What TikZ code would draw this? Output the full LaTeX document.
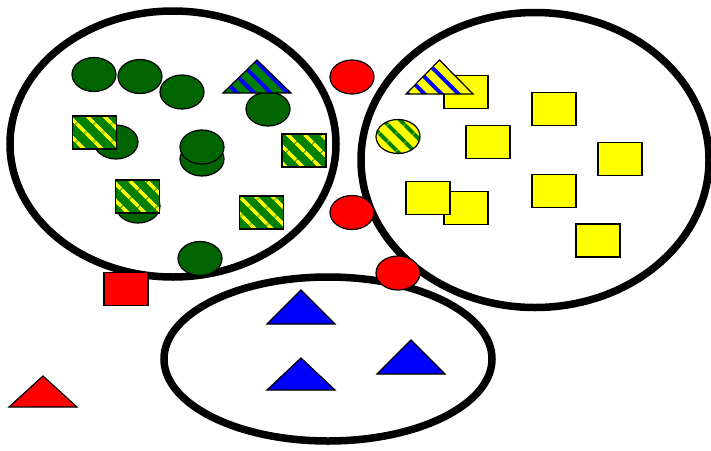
\documentclass[tikz,border=0pt]{standalone}
\usetikzlibrary{shapes.geometric, patterns.meta}
\definecolor{leaf}{HTML}{006400}
\definecolor{stripe}{HTML}{008000}
\definecolor{sun}{HTML}{FFFF00}
\definecolor{fire}{HTML}{FF0000}
\definecolor{sea}{HTML}{0000FF}
\tikzset{
  rim/.style={ellipse, draw=black, line width=7.5pt, inner sep=0pt},
  dot/.style={ellipse, draw=black, line width=1.2pt, inner sep=0pt,
    minimum width=44pt, minimum height=34pt},
  gdot/.style={dot, fill=leaf},
  rdot/.style={dot, fill=fire},
  ydot/.style={dot, preaction={fill=sun},
    pattern={Lines[angle=-45, distance=13pt, line width=4.5pt]}, pattern color=stripe},
  sq/.style={rectangle, draw=black, line width=1.6pt, inner sep=0pt,
    minimum width=44pt, minimum height=33pt},
  ysq/.style={sq, fill=sun},
  rsq/.style={sq, fill=fire},
  gsq/.style={sq, preaction={fill=stripe},
    pattern={Lines[angle=-45, distance=13pt, line width=4pt]}, pattern color=sun},
  tri/.style={draw=black, line width=1.2pt, line join=miter},
  btri/.style={tri, fill=sea},
  rtri/.style={tri, fill=fire},
  gtri/.style={tri, preaction={fill=stripe},
    pattern={Lines[angle=-45, distance=12pt, line width=4pt]}, pattern color=sea},
  ytri/.style={tri, preaction={fill=sun},
    pattern={Lines[angle=-45, distance=12pt, line width=4pt]}, pattern color=sea},
}

\begin{document}
\begin{tikzpicture}[x=1pt, y=-1pt]
  \useasboundingbox[fill=white] (0,0) rectangle (711,450);
  % the three sets
  \node[rim, minimum width=326pt, minimum height=266pt] (lset) at (173,144) {};
  \node[rim, minimum width=348pt, minimum height=295pt] (rset) at (535,160) {};
  \node[rim, minimum width=328pt, minimum height=164pt] (bset) at (328,359) {};
  % left set
  \node[gdot] (g1) at (94,74.5) {};
  \node[gdot] (g2) at (140,76.5) {};
  \node[gdot] (g3) at (182,92) {};
  \node[gdot] (g4) at (268,109) {};
  \draw[gtri] (223,93) -- (257,60) -- (291,93) -- cycle;
  \node[gdot] (g5) at (116,142) {};
  \node[gsq] (s1) at (94.5,132.5) {};
  \node[gdot] (g6) at (202,159) {};
  \node[gdot] (g7) at (202,147) {};
  \node[gsq] (s2) at (304,150.5) {};
  \node[gdot] (g8) at (138,206) {};
  \node[gsq] (s3) at (137.5,196.5) {};
  \node[gsq] (s4) at (261.5,212.5) {};
  \node[gdot] (g9) at (200,258.5) {};
  % right set
  \node[ysq] (y1) at (466,92) {};
  \draw[ytri] (406,94) -- (439.5,60) -- (473,94) -- cycle;
  \node[ydot] (seed) at (398,136.5) {};
  \node[ysq] (y2) at (488,142) {};
  \node[ysq] (y3) at (554,109) {};
  \node[ysq] (y4) at (620,159) {};
  \node[ysq] (y5) at (554,191) {};
  \node[ysq] (y6) at (466,208) {};
  \node[ysq] (y7) at (428,198) {};
  \node[ysq] (y8) at (598,240.5) {};
  % bottom set
  \draw[btri] (267,324) -- (301,290) -- (335,324) -- cycle;
  \draw[btri] (267,390) -- (301,358) -- (335,390) -- cycle;
  \draw[btri] (377,374) -- (411,340) -- (445,374) -- cycle;
  % outside
  \node[rdot] (r1) at (352,77) {};
  \node[rdot] (r2) at (352,212.5) {};
  \node[rdot] (r3) at (398,273) {};
  \node[rsq] (rs) at (126,289) {};
  \draw[rtri] (9,407) -- (43,376) -- (77,407) -- cycle;
\end{tikzpicture}
\end{document}
